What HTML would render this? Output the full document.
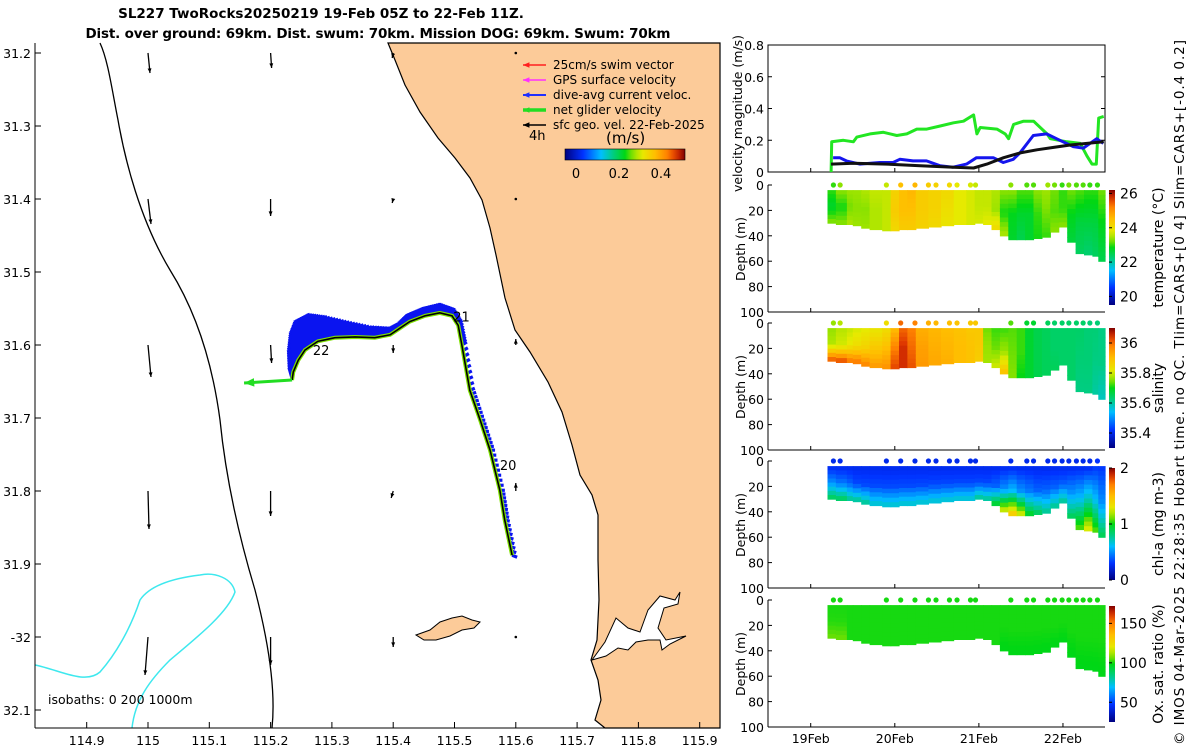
<!DOCTYPE html>
<html><head><meta charset="utf-8">
<style>
html,body{margin:0;padding:0;background:#fff;}
svg{display:block;font-family:"DejaVu Sans","Liberation Sans",sans-serif;}
</style></head>
<body>
<svg id="fig" width="1200" height="750" viewBox="0 0 1200 750" xmlns="http://www.w3.org/2000/svg">
<rect x="0" y="0" width="1200" height="750" fill="#fff"/>
<g font-weight="bold" font-size="13.5" text-anchor="middle">
<text x="321" y="18">SL227 TwoRocks20250219 19-Feb 05Z to 22-Feb 11Z.</text>
<text x="378" y="38" textLength="585">Dist. over ground: 69km. Dist. swum: 70km. Mission DOG: 69km. Swum: 70km</text>
</g>
<g id="map"></g>
<g id="right"></g>
<text transform="translate(1184,745) rotate(-90)" font-size="13.5" textLength="705">© IMOS 04-Mar-2025 22:28:35 Hobart time. no QC. Tlim=CARS+[0 4] Slim=CARS+[-0.4 0.2]</text>
</svg>
<script>
// ---------- DATA ----------
const lonTicks=[114.9,115,115.1,115.2,115.3,115.4,115.5,115.6,115.7,115.8,115.9];
const latTicks=[31.2,31.3,31.4,31.5,31.6,31.7,31.8,31.9,32,32.1];
const trackLon=[115.594,115.582,115.574,115.558,115.542,115.525,115.512,115.506,115.496,115.476,115.452,115.427,115.411,115.395,115.370,115.338,115.305,115.277,115.256,115.245,115.237,115.235];
const trackLat=[31.888,31.840,31.799,31.744,31.703,31.662,31.600,31.573,31.560,31.556,31.560,31.568,31.577,31.586,31.590,31.589,31.590,31.595,31.607,31.621,31.637,31.648];
const curU=[0.05,0.05,0.05,0.05,0.05,0.05,0.05,0.04,0.02,0.0,-0.02,-0.03,-0.02,0,-0.05,-0.08,-0.1,-0.1,-0.1,-0.08,-0.05,-0.03];
const curV=[-0.02,-0.01,0,0,0,0.02,0.03,0.05,0.08,0.1,0.09,0.08,0.06,0.08,0.12,0.16,0.22,0.28,0.3,0.28,0.22,0.1];
const geoLon=[115.0,115.2,115.4,115.6];
const geoLat=[31.2,31.4,31.6,31.8,32.0];
const geoU=[[0.02,0.03,0.03,0.01,-0.03],[0.01,0,0.01,0,0],[-0.01,-0.01,0,-0.02,0],[0,0,0,0,0]];
const geoV=[[-0.20,-0.25,-0.32,-0.38,-0.38],[-0.15,-0.17,-0.18,-0.25,-0.28],[-0.05,-0.04,-0.08,-0.07,-0.10],[0,0,0.06,0.08,0]];
const dayLabels=[{lon:115.574,lat:31.771,t:"20"},{lon:115.498,lat:31.568,t:"21"},{lon:115.269,lat:31.614,t:"22"}];

const velTicks=[0,0.2,0.4,0.6,0.8];
const dayTicks=[19,20,21,22];
const dayTickLabels=["19Feb","20Feb","21Feb","22Feb"];
const greenT=[19.242,19.25,19.389,19.508,19.548,19.706,19.865,20.024,20.143,20.262,20.381,20.54,20.698,20.817,20.937,20.976,21.016,21.214,21.313,21.353,21.413,21.532,21.651,21.81,21.849,22.048,22.206,22.286,22.345,22.397,22.425,22.484];
const greenV=[0,0.19,0.20,0.19,0.22,0.24,0.25,0.23,0.24,0.27,0.27,0.29,0.31,0.32,0.36,0.24,0.28,0.27,0.24,0.21,0.30,0.32,0.32,0.24,0.21,0.19,0.18,0.10,0.05,0.05,0.34,0.35];
const blueT=[19.266,19.345,19.425,19.583,19.821,19.98,20.06,20.218,20.377,20.536,20.694,20.853,20.972,21.052,21.171,21.29,21.409,21.488,21.647,21.806,21.964,22.123,22.242,22.401,22.48];
const blueV=[0.09,0.09,0.07,0.05,0.06,0.06,0.08,0.07,0.07,0.04,0.03,0.05,0.09,0.09,0.09,0.06,0.08,0.12,0.23,0.24,0.20,0.16,0.15,0.21,0.18];
const blackT=[19.242,19.508,19.905,20.302,20.698,20.937,21.095,21.294,21.492,21.69,21.889,22.087,22.286,22.484];
const blackV=[0.05,0.055,0.05,0.04,0.03,0.025,0.05,0.09,0.12,0.14,0.155,0.17,0.18,0.19];

const profT=[19.2,19.3,19.43,19.5,19.6,19.7,19.85,19.95,20.05,20.15,20.25,20.4,20.55,20.7,20.85,20.95,21.05,21.15,21.25,21.35,21.45,21.55,21.65,21.75,21.85,21.95,22.05,22.15,22.25,22.35,22.42,22.5];
const profBottom=[30,31,31,32,34,35,36,36,35,35,34,33,32,31,31,30,31,35,40,43,43,43,42,41,37,33,45,54,55,56,60,95];
const tempSurf=[23.0,23.3,23.4,23.4,23.5,23.6,23.6,24.2,24.5,24.6,24.3,24.2,24.1,23.8,23.7,23.6,23.6,23.5,23.3,23.3,23.1,23.1,23.3,23.4,23.2,23.0,23.2,23.1,23.0,23.0,23.2,22.6];
const tempMid=[22.7,22.9,23.2,23.3,23.3,23.5,23.6,24.3,24.5,24.5,24.3,24.2,24.0,23.8,23.7,23.6,23.6,23.4,22.9,22.8,22.7,22.7,23.0,23.2,23.1,23.0,22.8,22.6,22.6,22.6,22.8,22.0];
const tempBot=[23.3,23.3,23.5,23.4,23.4,23.5,23.6,24.1,24.3,24.3,24.2,24.1,23.9,23.8,23.7,23.7,23.8,24.1,23.5,22.7,22.5,22.7,22.9,23.0,23.3,23.3,22.6,22.4,22.3,22.4,22.5,21.4];
const salSurf=[35.76,35.78,35.79,35.8,35.81,35.82,35.84,35.9,36.00,35.98,35.92,35.91,35.90,35.89,35.88,35.88,35.74,35.72,35.72,35.73,35.72,35.68,35.66,35.65,35.64,35.64,35.64,35.64,35.63,35.63,35.62,35.60];
const salMid=[35.78,35.80,35.82,35.84,35.86,35.88,35.9,35.98,36.05,36.0,35.94,35.92,35.91,35.9,35.89,35.88,35.76,35.74,35.76,35.74,35.72,35.68,35.66,35.65,35.64,35.64,35.64,35.63,35.63,35.62,35.62,35.55];
const salBot=[36.03,36.04,36.0,36.0,35.98,35.95,35.96,36.03,36.05,36.02,35.95,35.93,35.92,35.90,35.89,35.87,35.77,35.8,35.9,35.75,35.7,35.68,35.66,35.65,35.65,35.64,35.64,35.62,35.62,35.6,35.58,35.5];
const chlSurf=[0.25,0.25,0.25,0.25,0.25,0.25,0.25,0.25,0.25,0.25,0.25,0.25,0.25,0.25,0.25,0.25,0.25,0.25,0.25,0.25,0.25,0.25,0.25,0.25,0.25,0.25,0.25,0.25,0.25,0.3,0.3,0.3];
const chlMid=[0.5,0.45,0.4,0.35,0.35,0.35,0.35,0.35,0.35,0.35,0.35,0.35,0.35,0.35,0.35,0.35,0.35,0.4,0.5,0.6,0.5,0.45,0.4,0.4,0.4,0.4,0.5,0.6,0.7,0.6,0.5,0.4];
const chlBot=[0.9,0.9,0.8,0.8,0.8,0.7,0.7,0.7,0.7,0.7,0.7,0.7,0.7,0.7,0.7,0.8,0.8,1.0,1.3,1.5,1.3,1.0,0.9,0.8,0.8,0.8,0.9,1.1,1.3,1.1,0.9,0.6];
const oxSurf=[100,100,100,100,100,100,100,100,100,100,100,100,100,100,100,100,100,100,100,100,100,100,100,100,100,100,100,100,100,100,100,100];
const oxMid=[101,101,100,100,100,100,100,100,100,100,100,100,100,100,100,100,100,100,100,100,100,100,100,100,100,100,100,100,100,100,100,100];
const oxBot=[106,106,100,100,100,100,100,100,100,100,100,100,100,100,100,100,100,100,98,98,98,98,98,98,98,98,98,98,98,98,98,98];
const dotT=[19.27,19.35,19.9,20.07,20.24,20.4,20.49,20.65,20.74,20.9,20.96,21.38,21.57,21.65,21.82,21.9,21.99,22.07,22.16,22.24,22.32,22.41];
const depthTicks=[0,20,40,60,80,100];

// ---------- HELPERS ----------
const NS="http://www.w3.org/2000/svg";
function mk(tag,attrs,parent){const e=document.createElementNS(NS,tag);for(const k in attrs)e.setAttribute(k,attrs[k]);parent.appendChild(e);return e;}
const CM=[[0,[0,0,128]],[0.15,[0,50,255]],[0.3,[0,190,255]],[0.4,[0,205,130]],[0.5,[0,215,20]],[0.56,[130,225,0]],[0.64,[230,235,0]],[0.75,[255,190,0]],[0.85,[255,130,0]],[0.93,[220,50,0]],[1,[128,0,0]]];
function jet(f){f=Math.max(0,Math.min(1,f));
 for(let i=0;i<CM.length-1;i++){if(f<=CM[i+1][0]){const a=CM[i],b=CM[i+1],u=(f-a[0])/(b[0]-a[0]);
  return `rgb(${Math.round(a[1][0]+(b[1][0]-a[1][0])*u)},${Math.round(a[1][1]+(b[1][1]-a[1][1])*u)},${Math.round(a[1][2]+(b[1][2]-a[1][2])*u)})`;}}
 return "rgb(128,0,0)";}

// ---------- MAP ----------
const map=document.getElementById('map');
const MX0=35,MX1=720,MY0=43,MY1=728;
const xLon=l=>148+(l-115)*613;
const yLat=l=>53+(l-31.2)*730;

const land=mk('path',{d:"M388,43 L395,60 L405,85 L420,112 L438,138 L455,158 L470,178 L482,200 L490,228 L496,255 L505,298 L515,330 L530,352 L548,382 L562,412 L572,445 L580,475 L592,495 L598,515 L598,560 L599,600 L597,640 L591,660 L598,680 L601,700 L595,720 L605,728 L720,728 L720,43 Z",fill:"#FCCB99",stroke:"#000","stroke-width":1.2},map);


const est=mk('path',{d:"M592,660 L605,642 L616,618 L628,628 L640,632 L648,610 L660,596 L675,600 L680,592 L678,604 L664,608 L658,628 L666,640 L686,636 L670,644 L662,650 L660,640 L648,640 L636,642 L628,650 L618,648 L606,656 Z",fill:"#fff",stroke:"#000","stroke-width":1},map);


const isl=mk('path',{d:"M416,635 L430,630 L440,622 L452,618 L462,616 L472,620 L480,622 L474,628 L462,630 L450,636 L436,640 L424,640 Z",fill:"#FCCB99",stroke:"#000","stroke-width":1},map);


const iso1=mk('path',{d:"M100,43 C108,60 112,90 118,120 C125,160 140,220 170,270 C195,310 212,360 220,420 C226,480 240,540 255,590 C268,640 276,690 272,728",fill:"none",stroke:"#000","stroke-width":1.3},map);


const iso2=mk('path',{d:"M35,665 C60,670 85,685 100,672 C115,655 130,630 140,600 C150,585 175,578 200,575 C215,572 232,578 235,592 C228,612 200,635 170,660 C150,680 135,700 132,728",fill:"none",stroke:"#3ee8ee","stroke-width":1.5},map);



const mAx=mk('g',{'font-size':12.5},map);


mk('line',{x1:MX0,y1:MY1,x2:MX1,y2:MY1,stroke:"#000"},mAx);
mk('line',{x1:MX0,y1:MY0,x2:MX0,y2:MY1,stroke:"#000"},mAx);
lonTicks.forEach(l=>{const x=xLon(l);
 mk('line',{x1:x,y1:MY1,x2:x,y2:MY1-6,stroke:"#000"},mAx);
 const t=mk('text',{x:x,y:745,'text-anchor':'middle'},mAx);t.textContent=String(l);
 
 });
latTicks.forEach(l=>{const y=yLat(l);
 mk('line',{x1:MX0,y1:y,x2:MX0+6,y2:y,stroke:"#000"},mAx);
 const t=mk('text',{x:31,y:y+5,'text-anchor':'end'},mAx);t.textContent=(l===32?"-32":String(l));
 
 });
const isoT=mk('text',{x:48,y:704,'font-size':12.5},map);isoT.textContent="isobaths: 0   200  1000m";



function arrow(g,x1,y1,x2,y2,col,w,head){
 mk('line',{x1,y1,x2,y2,stroke:col,'stroke-width':w},g);
 const a=Math.atan2(y2-y1,x2-x1),h=head;
 mk('path',{d:`M${x2},${y2} L${x2-h*Math.cos(a-0.4)},${y2-h*Math.sin(a-0.4)} L${x2-h*Math.cos(a+0.4)},${y2-h*Math.sin(a+0.4)} Z`,fill:col},g);
}
const geoG=mk('g',{},map);


geoLon.forEach((lo,i)=>geoLat.forEach((la,j)=>{const x=xLon(lo),y=yLat(la);
 const dx=geoU[i][j]*100,dy=-geoV[i][j]*100;
 if(Math.hypot(dx,dy)<1){mk('circle',{cx:x,cy:y,r:1.3,fill:"#000"},geoG);return;}
 arrow(geoG,x,y,x+dx,y+dy,"#000",1.3,5);}));

const curG=mk('g',{},map);


for(let i=0;i<trackLon.length-1;i++){
 for(let k=0;k<8;k++){const f=k/8;
  const x=xLon(trackLon[i]+(trackLon[i+1]-trackLon[i])*f),y=yLat(trackLat[i]+(trackLat[i+1]-trackLat[i])*f);
  const u=curU[i]+(curU[i+1]-curU[i])*f,v=curV[i]+(curV[i+1]-curV[i])*f;
  mk('line',{x1:x,y1:y,x2:x+u*100,y2:y-v*100,stroke:"#0a14f0",'stroke-width':3.2},curG);}}
let td="";trackLon.forEach((l,i)=>{td+=(i?"L":"M")+xLon(l)+","+yLat(trackLat[i])+" ";});
const trY=mk('path',{d:td,fill:"none",stroke:"#7ee000",'stroke-width':4},map);


const tr=mk('path',{d:td,fill:"none",stroke:"#000",'stroke-width':1.6},map);


const gx=xLon(trackLon[trackLon.length-1]),gy=yLat(trackLat[trackLat.length-1]);
const ng=mk('g',{},map);


arrow(ng,gx,gy,gx-48,gy+3,"#22dd22",3,11);
dayLabels.forEach(d=>{const t=mk('text',{x:xLon(d.lon),y:yLat(d.lat),'font-size':13},map);t.textContent=d.t;
 
 });

const lg=mk('g',{'font-size':12},map);


const legItems=[["25cm/s swim vector","#ff2020",1.5],["GPS surface velocity","#ff30ff",1.5],["dive-avg current veloc.","#2030ff",2],["net glider velocity","#22dd22",3.5],["sfc geo. vel. 22-Feb-2025","#000",1.5]];
legItems.forEach((it,i)=>{const y=65+i*15;
 const e=mk('g',{},lg);
 
 
 arrow(e,546,y,523,y,it[1],it[2],7);
 const t=mk('text',{x:553,y:y+4},e);t.textContent=it[0];});
const t4=mk('text',{x:529,y:140,'font-size':13},lg);t4.textContent="4h";
const tms=mk('text',{x:606,y:143,'font-size':15},lg);tms.textContent="(m/s)";
const defs=mk('defs',{},document.getElementById('fig'));
const gr=mk('linearGradient',{id:'jetH',x1:0,x2:1,y1:0,y2:0},defs);
for(let i=0;i<=20;i++)mk('stop',{offset:i/20,'stop-color':jet(i/20)},gr);
const gv=mk('linearGradient',{id:'jetV',x1:0,x2:0,y1:1,y2:0},defs);
for(let i=0;i<=20;i++)mk('stop',{offset:i/20,'stop-color':jet(i/20)},gv);
const cb=mk('rect',{x:565,y:149,width:120,height:11,fill:"url(#jetH)",stroke:"#000",'stroke-width':0.6},lg);


[["0",576],["0.2",619],["0.4",661]].forEach(p=>{const t=mk('text',{x:p[1],y:178,'text-anchor':'middle','font-size':13},lg);t.textContent=p[0];});

// ---------- RIGHT PANELS ----------
const R=document.getElementById('right');
const PX0=768,PX1=1105,T0=18.492,T1=22.5;
const xT=t=>PX0+(t-T0)/(T1-T0)*(PX1-PX0);
const VY0=45,VY1=172;const yV=v=>VY1-v/0.8*(VY1-VY0);
const vp=mk('g',{'font-size':12.5},R);


mk('rect',{x:PX0,y:VY0,width:PX1-PX0,height:VY1-VY0,fill:"none",stroke:"#000"},vp);
velTicks.forEach(v=>{const y=yV(v);mk('line',{x1:PX0,y1:y,x2:PX0+4,y2:y,stroke:"#000"},vp);mk('line',{x1:PX1,y1:y,x2:PX1-4,y2:y,stroke:"#000"},vp);
 const t=mk('text',{x:PX0-4,y:y+5,'text-anchor':'end'},vp);t.textContent=String(v);
 
 });
dayTicks.forEach(d=>{mk('line',{x1:xT(d),y1:VY1,x2:xT(d),y2:VY1-4,stroke:"#000"},vp);});
const vl=mk('text',{transform:`translate(742,${(VY0+VY1)/2+5}) rotate(-90)`,'text-anchor':'middle','font-size':12.5},vp);vl.textContent="velocity magnitude (m/s)";


function series(T,V,col,name){let d="";T.forEach((t,i)=>{d+=(i?"L":"M")+xT(t).toFixed(1)+","+yV(V[i]).toFixed(1)+" ";});
 const p=mk('path',{d,fill:"none",stroke:col,'stroke-width':3,'stroke-linejoin':'round'},vp);
 
 }
series(greenT,greenV,"#22e622","net-glider-velocity-line");
series(blueT,blueV,"#1515ee","dive-avg-current-line");
series(blackT,blackV,"#111","geostrophic-velocity-line");

function depthPanel(top,S,M,B,vmin,vmax,cbTicks,title,name,cbTop,cbBot){
 const bot=top+127;const yD=d=>top+d/100*127;
 const g=mk('g',{'font-size':12.5},R);
 
 
 const f=v=>jet((v-vmin)/(vmax-vmin));
 for(let i=0;i<profT.length-1;i++){
  const x0=xT(profT[i]),x1=xT(profT[i+1]);const D=profBottom[i];
  const n=Math.max(6,Math.round(D/4));
  for(let k=0;k<n;k++){const fr=(k+0.5)/n;const d0=4+(D-4)*k/n,d1=4+(D-4)*(k+1)/n;
   const v=fr<0.5?S[i]+(M[i]-S[i])*fr*2:M[i]+(B[i]-M[i])*(fr-0.5)*2;
   const c=mk('rect',{x:x0.toFixed(1),y:yD(d0).toFixed(1),width:(x1-x0+0.6).toFixed(1),height:(yD(d1)-yD(d0)+0.6).toFixed(1),fill:f(v)},g);
   
   }}
 dotT.forEach(t=>{let j=0;while(j<profT.length-2&&profT[j+1]<t)j++;
  const c=mk('circle',{cx:xT(t),cy:top,r:2.6,fill:f(S[j])},g);
  
  });
 mk('line',{x1:PX0,y1:top,x2:PX0,y2:bot,stroke:"#000"},g);
 mk('line',{x1:PX0,y1:bot,x2:PX1,y2:bot,stroke:"#000"},g);
 depthTicks.forEach(d=>{const y=yD(d);mk('line',{x1:PX0,y1:y,x2:PX0+4,y2:y,stroke:"#000"},g);
  const t=mk('text',{x:PX0-4,y:y+5,'text-anchor':'end'},g);t.textContent=String(d);
  
  });
 dayTicks.forEach(d=>{mk('line',{x1:xT(d),y1:bot,x2:xT(d),y2:bot-4,stroke:"#000"},g);});
 const dl=mk('text',{transform:`translate(745,${top+64}) rotate(-90)`,'text-anchor':'middle'},g);dl.textContent="Depth (m)";
 
 
 const cbr=mk('rect',{x:1109,y:cbTop,width:6,height:cbBot-cbTop,fill:"url(#jetV)"},g);
 
 
 cbTicks.forEach(v=>{const y=cbBot-(v-vmin)/(vmax-vmin)*(cbBot-cbTop);
  mk('line',{x1:1109,y1:y,x2:1112,y2:y,stroke:"#000"},g);
  const t=mk('text',{x:1120,y:y+5,'font-size':14},g);t.textContent=String(v);
  
  });
 const ct=mk('text',{transform:`translate(1163,${(cbTop+cbBot)/2}) rotate(-90)`,'text-anchor':'middle','font-size':14},g);ct.textContent=title;
 
 
}
depthPanel(185,tempSurf,tempMid,tempBot,19.5,26.2,[20,22,24,26],"temperature (°C)","temperature-panel",190,305);
depthPanel(323,salSurf,salMid,salBot,35.3,36.1,[35.4,35.6,35.8,36],"salinity","salinity-panel",328,448);
depthPanel(461,chlSurf,chlMid,chlBot,0,2,[0,1,2],"chl-a (mg m-3)","chlorophyll-panel",468,580);
depthPanel(600,oxSurf,oxMid,oxBot,25,172,[50,100,150],"Ox. sat. ratio (%)","oxygen-panel",606,722);
dayTicks.forEach((d,i)=>{const t=mk('text',{x:xT(d),y:743,'text-anchor':'middle','font-size':12.5},R);t.textContent=dayTickLabels[i];
 
 });
</script>
</body></html>
